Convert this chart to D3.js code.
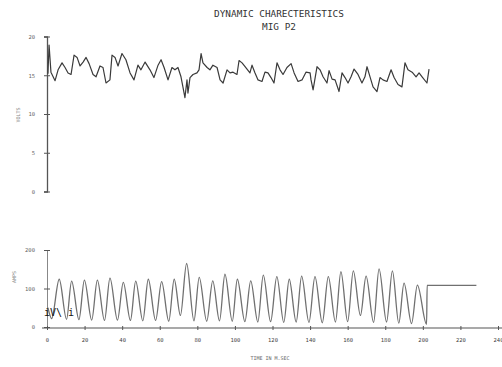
<!DOCTYPE html>
<html><head><meta charset="utf-8">
<script src="https://cdn.jsdelivr.net/npm/d3@7"></script>
<style>
html,body{margin:0;padding:0;background:#fff;}
svg{display:block;}
text{font-family:"DejaVu Sans Mono",monospace;}
</style></head>
<body>
<svg id="c" width="502" height="367"></svg>
<script>
// ---- data ----
const titleLines = ["DYNAMIC CHARECTERISTICS", "MIG P2"];
const xTicks = [0,20,40,60,80,100,120,140,160,180,200,220,240];
const voltTicks = [0,5,10,15,20];
const ampTicks = [0,100,200];
const xLabel = "TIME IN M.SEC";
const voltLabel = "VOLTS";
const ampLabel = "AMPS";

const voltTime = [0.5,1.1,2.1,4.3,5.9,8.0,9.6,11.2,12.8,14.4,16.0,17.6,19.2,20.8,22.4,24.5,26.1,28.2,29.8,31.4,33.5,34.6,36.2,37.8,39.9,42.0,44.2,46.3,48.4,50.0,52.2,54.8,56.9,59.1,60.7,62.3,64.4,66.5,68.1,69.7,71.3,72.4,73.4,74.5,75.0,76.1,77.7,79.8,80.9,82.0,83.0,85.2,86.7,88.3,90.5,92.1,93.7,95.8,97.4,99.0,101.1,102.2,103.8,105.4,108.0,109.1,110.7,112.3,114.4,116.0,117.6,119.2,120.8,122.4,124.0,125.6,127.7,129.9,131.5,133.6,135.7,137.8,140.0,140.5,141.6,143.7,145.3,146.9,149.0,150.1,151.7,153.3,155.4,157.0,158.6,160.2,161.8,163.4,165.5,167.6,169.2,170.3,171.9,173.5,175.6,177.2,178.8,180.9,183.1,184.7,186.8,188.9,190.5,192.1,194.3,196.4,198.0,199.6,202.2,203.3];
const voltValue = [15.2,18.9,15.4,14.3,15.7,16.6,16.0,15.3,15.1,17.6,17.3,16.2,16.7,17.3,16.5,15.1,14.8,16.2,16.0,14.0,14.4,17.6,17.3,16.2,17.8,17.0,15.3,14.4,16.3,15.7,16.7,15.7,14.7,16.3,17.0,16.0,14.4,16.0,15.7,16.0,14.8,13.4,12.1,14.4,12.7,14.7,15.1,15.3,15.7,17.8,16.6,16.0,15.7,16.3,16.0,14.4,14.0,15.7,15.3,15.4,15.1,16.9,16.6,16.1,15.3,16.3,15.3,14.4,14.2,15.4,15.3,14.7,14.0,16.6,15.7,15.1,16.0,16.5,15.3,14.2,14.4,15.4,15.3,14.4,13.1,16.1,15.7,14.8,14.0,15.6,14.5,14.4,12.9,15.3,14.7,14.0,14.8,15.8,15.1,14.0,14.8,16.1,14.8,13.5,12.9,14.7,14.4,14.2,15.7,14.7,13.8,13.5,16.6,15.7,15.4,14.8,15.3,14.8,14.0,15.8];

const ampTime = [0.5,2.5,6.5,10.4,13.1,17.0,19.9,23.8,26.8,30.6,33.5,37.5,40.6,44.4,47.2,51.0,53.9,57.8,61.0,64.8,67.7,71.0,74.3,78.2,81.0,85.0,88.2,91.8,94.7,98.6,101.3,105.3,108.4,112.2,115.1,119.0,122.3,126.0,128.9,132.6,135.5,139.4,142.6,146.5,149.7,153.5,156.4,160.0,163.0,166.8,169.8,173.8,176.7,180.7,183.8,187.2,190.0,194.0,197.1,202.0,202.3,228.5];
const ampValue = [50,22,124,20,119,19,122,18,122,17,127,18,116,17,119,16,124,17,118,15,124,30,165,16,129,15,120,16,137,15,124,14,120,13,135,14,131,12,124,13,132,12,131,11,131,13,144,14,146,30,132,12,151,13,146,10,114,9,109,7,108,108];

// ---- chart ----
const svg = d3.select("#c");
const x = d3.scaleLinear().domain([0,240]).range([47,498]);
const yV = d3.scaleLinear().domain([0,20]).range([191.5,36.5]);
const yA = d3.scaleLinear().domain([0,200]).range([327,250]);

const axisColor = "#555";
const txtColor = "#666";

// title
svg.selectAll("text.title").data(titleLines).enter().append("text")
  .attr("class","title")
  .attr("x",279).attr("y",(d,i)=>17+i*12.5)
  .attr("text-anchor","middle")
  .attr("font-size",9.4).attr("fill","#333")
  .text(d=>d);

// top y axis
const gV = svg.append("g").attr("transform","translate(47,0)")
  .call(d3.axisLeft(yV).tickValues(voltTicks).tickSize(3).tickPadding(9).tickFormat(d3.format("d")));
gV.select(".domain").attr("stroke",axisColor).attr("stroke-width",1.3);
gV.selectAll(".tick line").attr("stroke",axisColor).attr("x2",3).attr("x1",-3);
gV.selectAll(".tick text").attr("fill",txtColor).attr("font-size",5.5).attr("font-family","DejaVu Sans Mono");

// bottom y axis
const gA = svg.append("g").attr("transform","translate(47,0)")
  .call(d3.axisLeft(yA).tickValues(ampTicks).tickSize(3).tickPadding(9).tickFormat(d3.format("d")));
gA.select(".domain").attr("stroke","#888").attr("stroke-width",1);
gA.selectAll(".tick line").attr("stroke",axisColor).attr("x2",3).attr("x1",-3);
gA.selectAll(".tick text").attr("fill",txtColor).attr("font-size",5.5).attr("font-family","DejaVu Sans Mono");

// x axis
const gX = svg.append("g").attr("transform","translate(0,328)")
  .call(d3.axisBottom(x).tickValues(xTicks).tickSize(2).tickPadding(8).tickFormat(d3.format("d")));
gX.select(".domain").attr("d","M42,0H502").attr("stroke",axisColor).attr("stroke-width",1.2);
gX.selectAll(".tick line").attr("stroke",axisColor).attr("y1",-2).attr("y2",2);
gX.selectAll(".tick text").attr("fill","#444").attr("font-size",5.5).attr("font-family","DejaVu Sans Mono");

// axis titles
svg.append("text").attr("x",270).attr("y",360).attr("text-anchor","middle")
  .attr("font-size",5).attr("fill",txtColor).text(xLabel);
svg.append("text").attr("transform","translate(20,115) rotate(-90)").attr("text-anchor","middle")
  .attr("font-size",5).attr("fill","#888").text(voltLabel);
svg.append("text").attr("transform","translate(16,277) rotate(-90)").attr("text-anchor","middle")
  .attr("font-size",5).attr("fill","#888").text(ampLabel);

// lines
const voltData = voltTime.map((t,i)=>[t,voltValue[i]]);
const ampData = ampTime.map((t,i)=>[t,ampValue[i]]);

svg.append("path").datum(voltData)
  .attr("fill","none").attr("stroke","#3a3a3a").attr("stroke-width",1.2).attr("stroke-linejoin","round")
  .attr("d", d3.line().x(d=>x(d[0])).y(d=>yV(d[1])));

svg.append("path").datum(ampData)
  .attr("fill","none").attr("stroke","#707070").attr("stroke-width",1.3).attr("stroke-linejoin","round")
  .attr("d", d3.line().x(d=>x(d[0])).y(d=>yA(d[1])).curve(d3.curveMonotoneX));

// scan artefact mark
svg.append("text").attr("x",44).attr("y",316).attr("font-size",10)
  .attr("font-family","DejaVu Sans").attr("fill","#111").text("iV\\ i");
</script>
</body></html>
